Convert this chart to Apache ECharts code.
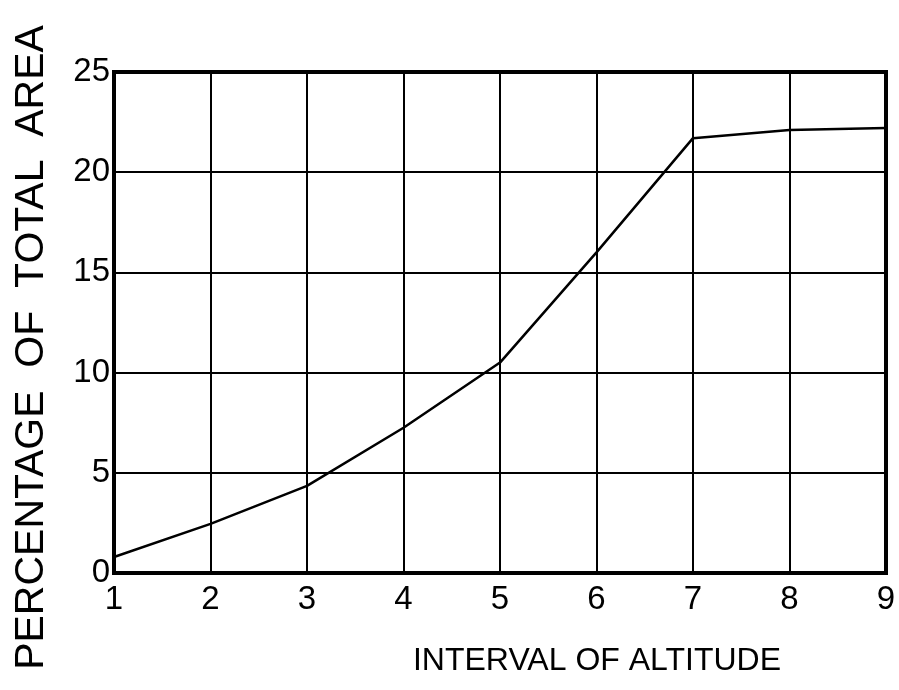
<!DOCTYPE html>
<html>
<head>
<meta charset="utf-8">
<script src="https://cdn.jsdelivr.net/npm/echarts@6/dist/echarts.min.js"></script>
<style>html,body{margin:0;padding:0;background:#fff}#c{width:899px;height:690px}</style>
</head>
<body>
<div id="c"></div>
<script>
var altitudeInterval = [1, 2, 3, 4, 5, 6, 7, 8, 9];
var percentArea = [0.8, 2.45, 4.35, 7.25, 10.5, 16.0, 21.7, 22.1, 22.2];
var yTicks = [0, 5, 10, 15, 20, 25];
var xTitle = 'INTERVAL OF ALTITUDE';
var yTitle = 'PERCENTAGE  OF  TOTAL  AREA';

var FONT = '"Liberation Sans", "DejaVu Sans", sans-serif';
var chart = echarts.init(document.getElementById('c'), null, {renderer: 'canvas'});
chart.setOption({
  animation: false,
  backgroundColor: '#fff',
  grid: {left: 114, right: 13, top: 72, bottom: 117, show: true, borderColor: '#000', borderWidth: 4, backgroundColor: 'transparent'},
  xAxis: {
    type: 'value', min: 1, max: 9, interval: 1,
    name: xTitle, nameLocation: 'middle', nameGap: 72,
    nameTextStyle: {fontFamily: FONT, fontSize: 32, color: '#000', padding: [0, 0, 0, 194]},
    axisLine: {show: false}, axisTick: {show: false},
    axisLabel: {fontFamily: FONT, fontSize: 33, color: '#000', margin: 10},
    splitLine: {show: true, lineStyle: {color: '#000', width: 2}}
  },
  yAxis: {
    type: 'value', min: 0, max: 25, interval: 5,
    name: yTitle, nameLocation: 'middle', nameGap: 62,
    nameTextStyle: {fontFamily: FONT, fontSize: 41, color: '#000', padding: [0, 50, 0, 0]},
    axisLine: {show: false}, axisTick: {show: false},
    axisLabel: {fontFamily: FONT, fontSize: 33, color: '#000', margin: 4,
      formatter: function (v) { return yTicks.indexOf(v) >= 0 ? String(v) : ''; }},
    splitLine: {show: true, lineStyle: {color: '#000', width: 2}}
  },
  series: [{
    type: 'line',
    data: altitudeInterval.map(function (x, i) { return [x, percentArea[i]]; }),
    showSymbol: false, symbol: 'none',
    lineStyle: {color: '#000', width: 2.5},
    z: 5
  }]
});
</script>
</body>
</html>
